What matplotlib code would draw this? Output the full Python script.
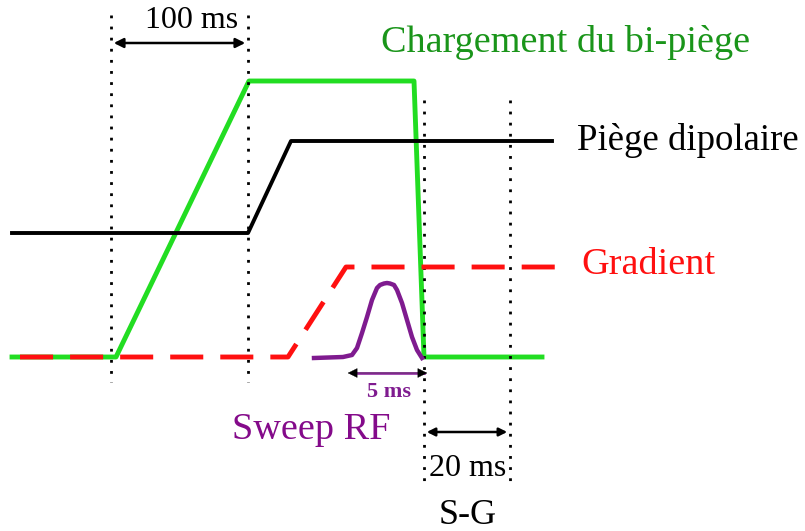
import matplotlib.pyplot as plt

# timing diagram, coordinates in picture units (x right, y down)
green_x = [12, 116, 249, 414, 424, 542]
green_y = [357, 357, 81, 81, 357, 357]

black_x = [12, 248, 291, 552]
black_y = [233, 233, 141, 141]

red_x = [20, 288, 346, 556]
red_y = [357, 357, 267, 267]

rf_x = [314, 343, 352, 357, 362, 367, 372, 377, 380, 384, 387, 390, 394, 397, 402, 407, 412, 417, 422]
rf_y = [358, 357, 355, 348, 333, 317, 300, 288, 285, 283.5, 283, 283.5, 285, 290, 303, 320, 337, 350, 358]

marks_x = [111, 248, 424, 510]
marks_top = [15, 15, 100, 100]
marks_bot = [382, 382, 482, 482]

plt.rcParams['font.family'] = ['Liberation Serif', 'DejaVu Serif']

fig = plt.figure(figsize=(8.05, 5.31), dpi=100)
ax = fig.add_axes([0, 0, 1, 1])
ax.set_xlim(0, 805)
ax.set_ylim(531, 0)
ax.axis('off')

for x, t, b in zip(marks_x, marks_top, marks_bot):
    ax.plot([x, x], [t, b], color='black', lw=2, ls=(0, (1, 3)))

ax.plot(red_x, red_y, color='#ff1010', lw=3.5, ls=(0, (6.8, 3.5)), zorder=2)
ax.plot(green_x, green_y, color='#22dd22', lw=3.5, zorder=1)
ax.plot(black_x, black_y, color='black', lw=2.8, zorder=3)
ax.plot(rf_x, rf_y, color='#7f1b8f', lw=3.2, zorder=3)

# arrows
ax.annotate('', xy=(111, 43), xytext=(248, 43),
            arrowprops=dict(arrowstyle='<|-|>', color='black', lw=1.8, mutation_scale=14))
ax.plot([352, 424], [373, 373], color='#9a3aaa', lw=2)
ax.annotate('', xy=(345, 373), xytext=(430, 373),
            arrowprops=dict(arrowstyle='<|-|>', color='black', lw=0.3, mutation_scale=16))
ax.annotate('', xy=(424, 432), xytext=(510, 432),
            arrowprops=dict(arrowstyle='<|-|>', color='black', lw=1.8, mutation_scale=12))

# labels
ax.text(192, 20, '100 ms', fontsize=23, ha='center', va='center')
ax.text(566, 43, 'Chargement du bi-piège', fontsize=27.5, color='#1a951a', ha='center', va='center')
ax.text(688, 141, 'Piège dipolaire', fontsize=26.5, color='black', ha='center', va='center')
ax.text(648, 265, 'Gradient', fontsize=27.5, color='#ff1010', ha='center', va='center')
ax.text(311, 430, 'Sweep RF', fontsize=27.5, color='#840a8a', ha='center', va='center')
ax.text(389, 392, '5 ms', fontsize=16, color='#7f1b8f', fontweight='bold', ha='center', va='center')
ax.text(468, 469, '20 ms', fontsize=23, ha='center', va='center')
ax.text(468, 516, 'S-G', fontsize=26, ha='center', va='center')

fig.savefig('out.png', dpi=100)
